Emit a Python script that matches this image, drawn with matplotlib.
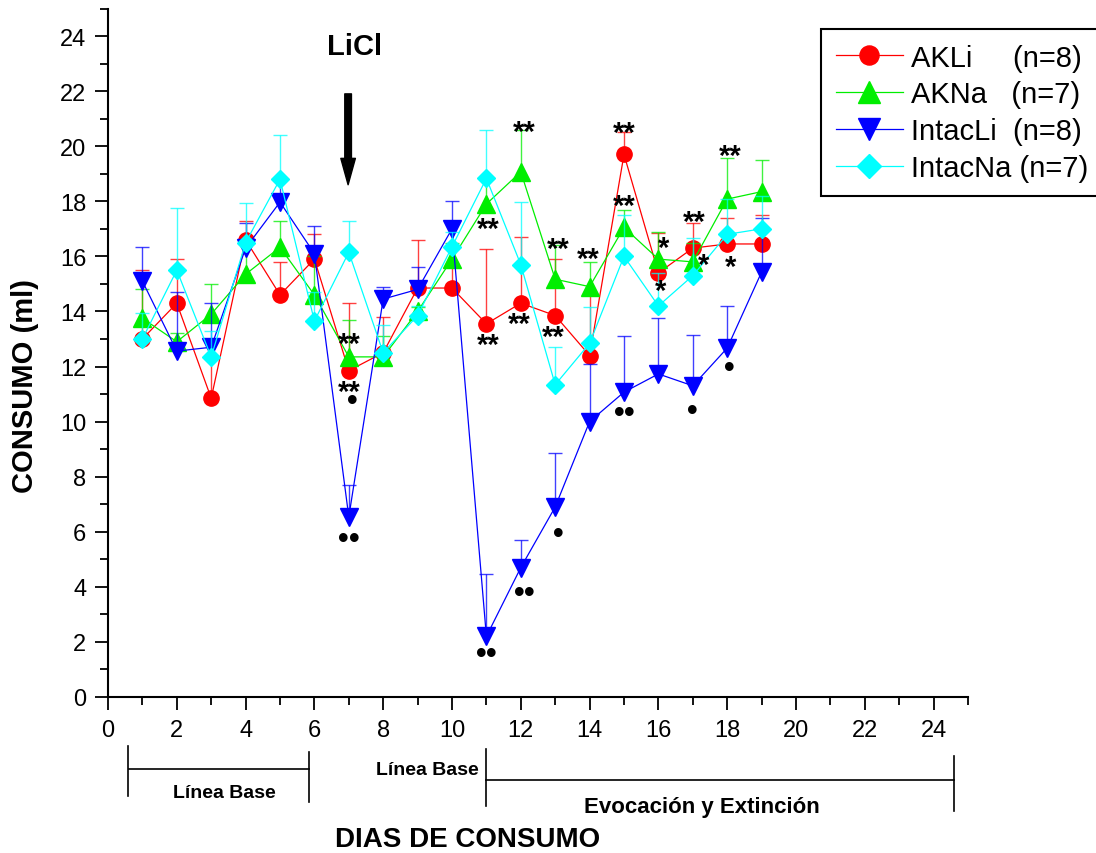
import numpy as np
import matplotlib
matplotlib.use("Agg")
import matplotlib.pyplot as plt
from matplotlib.ticker import MultipleLocator
from matplotlib.lines import Line2D
from matplotlib.textpath import TextPath
from matplotlib.font_manager import FontProperties
import matplotlib.transforms as mtrans

plt.rcParams['font.family'] = ['Liberation Sans', 'DejaVu Sans']

# dias de consumo
days = np.arange(1, 20)

# medias (ml) y error (solo barra superior)
akli = [13.0, 14.3, 10.85, 16.6, 14.6, 15.9, 11.85, 12.5, 14.85, 14.85,
        13.55, 14.3, 13.85, 12.4, 19.7, 15.4, 16.3, 16.45, 16.45]
akli_err = [2.5, 1.6, 1.45, 0.7, 1.2, 0.9, 2.45, 1.3, 1.75, 0.85,
            2.7, 2.4, 2.05, 2.3, 0.8, 1.45, 0.9, 0.95, 1.05]

akna = [13.75, 12.9, 13.9, 15.35, 16.33, 14.6, 12.35, 12.35, 14.0, 15.9,
        17.9, 19.07, 15.17, 14.9, 17.05, 15.9, 15.8, 18.08, 18.35]
akna_err = [1.05, 0.3, 1.1, 1.15, 0.97, 1.4, 1.35, 0.75, 0.15, 0.6,
            0.9, 1.53, 1.23, 0.9, 0.65, 1.0, 0.7, 1.49, 1.15]

intacli = [15.1, 12.56, 12.7, 16.3, 17.97, 16.1, 6.54, 14.45, 14.8, 17.0,
           2.2, 4.7, 6.9, 10.0, 11.07, 11.73, 11.3, 12.67, 15.43]
intacli_err = [1.25, 2.14, 1.6, 0.9, 0.83, 1.0, 1.16, 0.45, 0.8, 1.0,
               2.26, 1.0, 1.96, 2.1, 2.03, 2.02, 1.84, 1.53, 1.97]

intacna = [13.0, 15.5, 12.35, 16.5, 18.8, 13.65, 16.15, 12.5, 13.85, 16.35,
           18.83, 15.7, 11.34, 12.84, 16.0, 14.2, 15.3, 16.8, 17.0]
intacna_err = [0.95, 2.25, 0.95, 1.45, 1.6, 1.05, 1.15, 1.0, 0.35, 0.55,
               1.77, 2.26, 1.36, 1.31, 1.5, 1.2, 1.37, 1.3, 1.2]

labels = ["AKLi     (n=8)", "AKNa   (n=7)", "IntacLi  (n=8)", "IntacNa (n=7)"]

# significancia: (dia, consumo, marca)
sig_x = [7.0, 7.0, 7.1, 7.0, 11.0, 11.05, 11.05, 12.1, 11.95, 12.1,
         13.1, 12.95, 13.1, 13.95, 15.0, 15.0, 15.0, 16.15, 16.05,
         17.05, 17.3, 17.0, 18.1, 18.1, 18.05]
sig_y = [13.07, 11.33, 10.82, 5.81, 1.63, 17.25, 13.04, 20.77, 13.8, 3.85,
         16.52, 13.33, 5.99, 16.16, 20.73, 18.08, 10.38, 16.56, 15.0,
         17.5, 15.94, 10.46, 19.9, 15.87, 12.02]
sig_txt = ["**", "**", "\u2022", "\u2022\u2022", "\u2022\u2022", "**", "**", "**", "**", "\u2022\u2022",
           "**", "**", "\u2022", "**", "**", "**", "\u2022\u2022", "*", "*",
           "**", "*", "\u2022", "**", "*", "\u2022"]

fig = plt.figure(figsize=(10.96, 8.54), dpi=100)
W, H = 1096, 854
ax = fig.add_axes([108 / W, 1 - 698 / H, 860 / W, 688.5 / H])

series = [
    (akli, akli_err, 'o', 11, '#ff0000'),
    (akna, akna_err, '^', 12.5, '#00ee00'),
    (intacli, intacli_err, 'v', 12.5, '#0000ff'),
    (intacna, intacna_err, 'D', 9.5, '#00ffff'),
]

handles = []
for (vals, err, mk, ms, col), lab in zip(series, labels):
    vals = np.array(vals)
    top = vals + np.array(err)
    # solo la mitad superior de la barra de error
    ax.vlines(days, vals, top, colors=col, lw=1.0, alpha=0.75)
    ax.plot(days, top, ls='none', marker='_', ms=10, mew=1.0, color=col,
            alpha=0.75)
    h, = ax.plot(days, vals, color=col, lw=0.9, marker=mk, ms=ms,
                 mec=col, mfc=col)
    handles.append(h)

ax.set_xlim(0, 25)
ax.set_ylim(0, 25)
ax.xaxis.set_minor_locator(MultipleLocator(1))
ax.yaxis.set_minor_locator(MultipleLocator(1))
ax.set_xticks(np.arange(0, 25, 2))
ax.set_yticks(np.arange(0, 25, 2))
for s in ['top', 'right']:
    ax.spines[s].set_visible(False)
for s in ['left', 'bottom']:
    ax.spines[s].set_linewidth(1.5)
ax.tick_params(which='major', direction='out', length=9.5, width=1.3,
               labelsize=17, pad=6)
ax.tick_params(which='minor', direction='out', length=5.5, width=1.3)

# asteriscos y puntos
fp = FontProperties(family='Liberation Sans', weight='bold')
dot_ext = TextPath((0, 0), "\u2022", size=1, prop=fp).get_extents()
dot_fs = 6.2 / dot_ext.width
for x, y, t in zip(sig_x, sig_y, sig_txt):
    if '*' in t:
        ext = TextPath((0, 0), t, size=21, prop=fp).get_extents()
        yc = (ext.y0 + ext.y1) / 2
        ax.annotate(t, (x, y), xytext=(0, -yc), textcoords='offset points',
                    ha='center', va='baseline', fontsize=21, fontweight='bold',
                    color='black', annotation_clip=False)
    else:
        n = len(t)
        yc = (dot_ext.y0 + dot_ext.y1) / 2 * dot_fs
        for i in range(n):
            dx = (i - (n - 1) / 2) * 7.3
            ax.annotate("\u2022", (x, y), xytext=(dx, -yc),
                        textcoords='offset points', ha='center',
                        va='baseline', fontsize=dot_fs, fontweight='bold',
                        color='black', annotation_clip=False)

# LiCl
ax.text(7.18, 23.64, "LiCl", ha='center', va='center', fontsize=21,
        fontweight='bold')
ax.annotate('', xy=(6.98, 18.6), xytext=(6.98, 21.9),
            arrowprops=dict(width=4.8, headwidth=10.5, headlength=19,
                            shrink=0, color='black'))

# corchetes debajo del eje
tr = mtrans.blended_transform_factory(ax.transData, fig.transFigure)


def fy(py):
    return 1 - py / H


def vline(x, y0, y1):
    fig.add_artist(Line2D([x, x], [fy(y0), fy(y1)], transform=tr,
                          color='black', lw=1.2))


vline(0.58, 747, 797)
vline(5.84, 753, 803)
fig.add_artist(Line2D([0.6, 5.84], [fy(770), fy(770)], transform=tr,
                      color='black', lw=1.2))
vline(11.0, 750, 807)
vline(24.6, 757, 812)
fig.add_artist(Line2D([11.0, 24.6], [fy(781), fy(781)], transform=tr,
                      color='black', lw=1.2))

fig.text(3.37, fy(794), "Línea Base", transform=tr, ha='center', va='center',
         fontsize=14, fontweight='bold')
fig.text(9.27, fy(771), "Línea Base", transform=tr, ha='center', va='center',
         fontsize=14, fontweight='bold')
fig.text(17.27, fy(808), "Evocación y Extinción", transform=tr, ha='center',
         va='center', fontsize=16, fontweight='bold')
fig.text(10.44, fy(840), "DIAS DE CONSUMO", transform=tr, ha='center',
         va='center', fontsize=20, fontweight='bold')
fig.text(25 / W, fy(386), "CONSUMO (ml)", rotation=90, ha='center',
         va='center', fontsize=21, fontweight='bold')

leg = fig.legend(handles, labels, loc='upper left',
                 bbox_to_anchor=(821 / W, fy(30)), fontsize=21,
                 markerscale=1.25, handlelength=2.3, handletextpad=0.3,
                 labelspacing=0.3, borderpad=0.5, borderaxespad=0,
                 fancybox=False, framealpha=1, edgecolor='black')
leg.get_frame().set_linewidth(1.5)

fig.savefig("out.png", dpi=100)
